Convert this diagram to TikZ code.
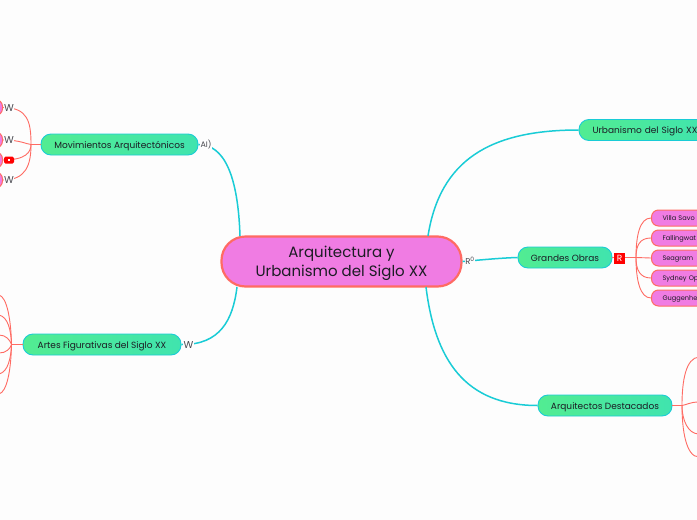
\documentclass[tikz,border=0pt]{standalone}
\usepackage{fontspec}
\setmainfont{Poppins}
\definecolor{mapgreen}{HTML}{52EC92}
\definecolor{mapgreenb}{HTML}{40E4AE}
\definecolor{mapteal}{HTML}{19CCD6}
\definecolor{mappink}{HTML}{F07CE3}
\definecolor{mapred}{HTML}{FF6B63}
\definecolor{mapink}{HTML}{1C1C24}
\definecolor{mappaper}{HTML}{FDFDFD}

\begin{document}
\begin{tikzpicture}[x=1pt, y=-1pt,
        root/.style={draw=mapred, line width=2.2pt, rounded corners=24pt, fill=mappink, align=center, text=mapink,
                    minimum width=240pt, minimum height=50pt, text depth=0pt, font=\fontsize{15}{19.5}\selectfont},
        topic/.style={draw=mapteal, line width=0.9pt, rounded corners=10pt, left color=mapgreen, right color=mapgreenb,
                    minimum height=21pt, inner sep=0pt, text=mapink, text height=7pt, text depth=0pt, font=\fontsize{9}{10}\selectfont},
        leaf/.style={draw=mapred, line width=1pt, rounded corners=7pt, fill=mappink, anchor=west, inner sep=0pt,
                    minimum height=16pt, minimum width=70pt, text=mapink, text height=5pt, text depth=0pt, font=\fontsize{6.6}{8}\selectfont},
        stem/.style={draw=mapteal, line width=1.5pt},
        trunk/.style={draw=mapred, line width=1.8pt},
        twig/.style={draw=mapred, line width=0.9pt},
        glyph/.style={font=\rmfamily\fontsize{10}{10}\selectfont, text=mapink!80, fill=mappaper, inner sep=0.2pt}
      ]
        \path[use as bounding box, fill=mappaper] (0,0) rectangle (697,520);

        \node[root] (root) at (341.5,261.5) {Arquitectura y\\Urbanismo del Siglo XX};
        \node[topic, minimum width=157pt] (movi) at (119.5,144.5) {Movimientos Arquitectónicos};
        \node[topic, minimum width=158pt] (artes) at (102,344.5) {Artes Figurativas del Siglo XX};
        \node[topic, minimum width=131pt, text width=118pt, align=left] (urba) at (644.5,130) {\hspace*{7pt}Urbanismo del Siglo XX};
        \node[topic, minimum width=94pt] (obras) at (565,257.5) {Grandes Obras};
        \node[topic, minimum width=134pt] (arqui) at (605,405.5) {Arquitectos Destacados};

        \node[leaf, text width=60pt, align=left] (villa) at (651,218) {\hspace*{6pt}Villa Savo};
        \node[leaf, text width=60pt, align=left] (falling) at (651,238) {\hspace*{6pt}Fallingwat};
        \node[leaf, text width=60pt, align=left] (seagram) at (651,258) {\hspace*{6pt}Seagram};
        \node[leaf, text width=60pt, align=left] (sydney) at (651,278) {\hspace*{6pt}Sydney Op};
        \node[leaf, text width=60pt, align=left] (gugg) at (651,298) {\hspace*{6pt}Guggenhe};

        \node[leaf] (movia) at (-68,107.5) {};
        \node[leaf] (movib) at (-68,140) {};
        \node[leaf] (movic) at (-68,160) {};
        \node[leaf] (movid) at (-68,180) {};

        % the branches run off the page on these two
        \coordinate (artesa) at (-1,295);
        \coordinate (artesb) at (-1,315);
        \coordinate (artesc) at (-1,335);
        \coordinate (artesd) at (-1,353);
        \coordinate (artese) at (-1,374);
        \coordinate (artesf) at (-1,394);
        \coordinate (arquia) at (699,357);
        \coordinate (arquib) at (699,402);
        \coordinate (arquic) at (699,434);
        \coordinate (arquid) at (699,457);

        \coordinate (forkmovi) at (31,144.5);
        \coordinate (forkartes) at (11.5,344.5);
        \coordinate (forkobras) at (636,257.5);
        \coordinate (forkarqui) at (682,405.5);

        \coordinate (rootnw) at (240,236);
        \coordinate (rootsw) at (237,287);
        \coordinate (rootne) at (428,236);
        \coordinate (rootse) at (426,287);

        \draw[stem] (movi.east) .. controls (224,144.5) and (238,175) .. (rootnw);
        \draw[stem] (artes.east) .. controls (220,345) and (233,320) .. (rootsw);
        \draw[stem] (urba.west) .. controls (490,130) and (440,160) .. (rootne);
        \draw[stem] (obras.west) .. controls (500,258) and (480,260) .. (root.east);
        \draw[stem] (arqui.west) .. controls (465,405.5) and (435,360) .. (rootse);

        \draw[trunk] (movi.west) -- (forkmovi);
        \draw[trunk] (artes.west) -- (forkartes);
        \draw[trunk] (obras.east) -- (forkobras);
        \draw[trunk] (arqui.east) -- (forkarqui);

        \draw[twig] (forkmovi) .. controls (31,122) and (28,107.5) .. (movia.east);
        \draw[twig] (forkmovi) .. controls (26,144) and (20,140) .. (movib.east);
        \draw[twig] (forkmovi) .. controls (31,152) and (26,160) .. (movic.east);
        \draw[twig] (forkmovi) .. controls (31,165) and (26,180) .. (movid.east);

        \draw[twig] (forkartes) .. controls (11,320) and (7,297) .. (artesa);
        \draw[twig] (forkartes) .. controls (11,330) and (8,317) .. (artesb);
        \draw[twig] (forkartes) .. controls (10,340) and (6,335) .. (artesc);
        \draw[twig] (forkartes) .. controls (10,349) and (6,353) .. (artesd);
        \draw[twig] (forkartes) .. controls (11,358) and (8,372) .. (artese);
        \draw[twig] (forkartes) .. controls (11,370) and (7,392) .. (artesf);

        \draw[twig] (forkobras) .. controls (636,235) and (640,218) .. (villa.west);
        \draw[twig] (forkobras) .. controls (636,245) and (640,238) .. (falling.west);
        \draw[twig] (forkobras) -- (seagram.west);
        \draw[twig] (forkobras) .. controls (636,270) and (640,278) .. (sydney.west);
        \draw[twig] (forkobras) .. controls (636,280) and (640,298) .. (gugg.west);

        \draw[twig] (forkarqui) .. controls (682,380) and (686,358) .. (arquia);
        \draw[twig] (forkarqui) .. controls (686,405) and (690,402) .. (arquib);
        \draw[twig] (forkarqui) .. controls (682,420) and (688,434) .. (arquic);
        \draw[twig] (forkarqui) .. controls (682,430) and (686,457) .. (arquid);

        \node[glyph, font=\rmfamily\fontsize{8}{8}\selectfont] (iconmovi) at (206,144.5) {AI)};
        \node[glyph] (iconartes) at (188.5,345) {W};
        \node[glyph, font=\rmfamily\fontsize{8.5}{9}\selectfont] (iconroot) at (470,261) {R\textsuperscript{0}};
        \node[fill=red, minimum size=11pt, inner sep=0pt, text=white, font=\rmfamily\fontsize{9}{9}\selectfont] (iconobras) at (619.5,258) {R};

        \node[glyph] (iconmovia) at (9,108) {W};
        \node[glyph] (iconmovib) at (9,140) {W};
        \node[fill=red, rounded corners=1.5pt, minimum width=10pt, minimum height=7pt, inner sep=0pt] (iconmovic) at (9,160) {};
        \node[fill=white, minimum size=2pt, inner sep=0pt] (iconmovicdot) at (9,160) {};
        \node[glyph] (iconmovid) at (9,180) {W};
\end{tikzpicture}
\end{document}
